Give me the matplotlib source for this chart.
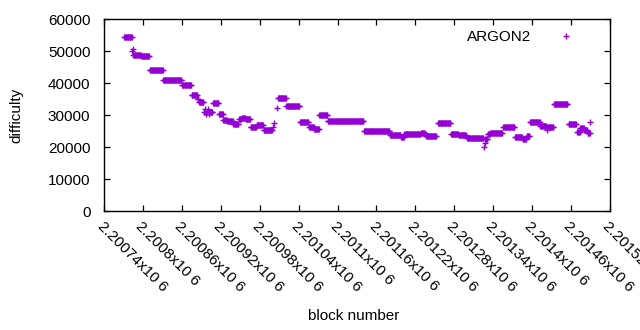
import numpy as np
import matplotlib
matplotlib.use("Agg")
import matplotlib.pyplot as plt
from matplotlib.ticker import FixedLocator, FuncFormatter

plt.rcParams['font.family'] = ['Liberation Sans', 'DejaVu Sans']

run_start = [2200771, 2200783, 2200784, 2200785, 2200797, 2200810, 2200831, 2200860, 2200875, 2200884,
             2200886, 2200894, 2200896, 2200897, 2200898, 2200900, 2200901, 2200902, 2200908, 2200917,
             2200924, 2200930, 2200939, 2200948, 2200952, 2200958, 2200966, 2200975, 2200986, 2201001,
             2201002, 2201006, 2201008, 2201021, 2201042, 2201056, 2201064, 2201072, 2201085, 2201141,
             2201181, 2201198, 2201203, 2201229, 2201235, 2201237, 2201255, 2201275, 2201287, 2201300,
             2201326, 2201327, 2201328, 2201332, 2201336, 2201356, 2201374, 2201386, 2201392, 2201397,
             2201413, 2201423, 2201424, 2201434, 2201457, 2201470, 2201475, 2201481, 2201486, 2201490]
run_end = [2200782, 2200783, 2200784, 2200796, 2200809, 2200830, 2200859, 2200874, 2200883, 2200885,
           2200893, 2200895, 2200896, 2200897, 2200899, 2200900, 2200901, 2200907, 2200916, 2200923,
           2200929, 2200938, 2200947, 2200951, 2200957, 2200965, 2200974, 2200985, 2200999, 2201001,
           2201002, 2201006, 2201020, 2201041, 2201055, 2201063, 2201071, 2201084, 2201140, 2201180,
           2201197, 2201202, 2201228, 2201234, 2201236, 2201252, 2201274, 2201286, 2201298, 2201325,
           2201326, 2201327, 2201331, 2201335, 2201354, 2201373, 2201385, 2201391, 2201396, 2201412,
           2201422, 2201423, 2201433, 2201455, 2201468, 2201474, 2201480, 2201485, 2201489, 2201490]
run_value = [54400, 50000, 50600, 48750, 48440, 44060, 40940, 39400, 36200, 35100,
             34060, 31100, 32000, 30500, 31100, 32000, 30500, 31100, 33750, 30400,
             28600, 28100, 27300, 28750, 29250, 28750, 26250, 26970, 25400, 26400,
             27700, 32200, 35300, 32800, 27800, 26500, 25700, 30000, 28100, 25000,
             23750, 23100, 24150, 24500, 24150, 23500, 27500, 24300, 23800, 22800,
             20200, 21500, 22500, 24150, 24600, 26250, 23300, 22500, 23500, 27800,
             26600, 25300, 26200, 33440, 27200, 24700, 25900, 25400, 24400, 27800]

series_label = "ARGON2"
x_ticks = list(range(2200740, 2201521, 60))
y_ticks = [0, 10000, 20000, 30000, 40000, 50000, 60000]

blocks = np.concatenate([np.arange(s, e + 1) for s, e in zip(run_start, run_end)])
diffs = np.concatenate([np.full(e - s + 1, v) for s, e, v in zip(run_start, run_end, run_value)])

W, H = 640, 330
fig = plt.figure(figsize=(6.4, 3.3), dpi=100)
L, R, T, B = 104.3, 609.6, 19.3, 211.3
ax = fig.add_axes([L / W, 1 - B / H, (R - L) / W, (B - T) / H])

color = '#9400D3'
ax.plot(blocks, diffs, linestyle='none', marker='+', markersize=5, markeredgewidth=1.0,
        color=color, label=series_label)

ax.set_xlim(x_ticks[0], x_ticks[-1])
ax.set_ylim(y_ticks[0], y_ticks[-1])
ax.xaxis.set_major_locator(FixedLocator(x_ticks))
ax.yaxis.set_major_locator(FixedLocator(y_ticks))
ax.xaxis.set_major_formatter(FuncFormatter(lambda v, p: f"{v/1e6:g}x10 6"))
ax.yaxis.set_major_formatter(FuncFormatter(lambda v, p: f"{int(v)}"))

fs = 11
ax.tick_params(axis='both', direction='in', length=4, width=0.9, top=True, right=True,
               labelsize=fs, colors='black')
ax.tick_params(axis='y', pad=10)
ax.tick_params(axis='x', pad=6)
for lab in ax.get_xticklabels():
    lab.set_rotation(-45)
    lab.set_ha('left')
    lab.set_va('top')
    lab.set_rotation_mode('anchor')

for s in ax.spines.values():
    s.set_linewidth(1.0)
    s.set_color('black')

ax.set_ylabel('difficulty', fontsize=fs)
ax.yaxis.set_label_coords((23 - L) / (R - L), 0.5)
ax.set_xlabel('block number', fontsize=fs)
ax.xaxis.set_label_coords((354 - L) / (R - L), (B - 309) / (B - T))

ax.legend(loc='center right', bbox_to_anchor=(604.5 / W, 1 - 31 / H), frameon=False,
          markerfirst=False, fontsize=fs, handlelength=2, handletextpad=1.3,
          borderaxespad=0, borderpad=0)

fig.savefig('out.png', dpi=100)
